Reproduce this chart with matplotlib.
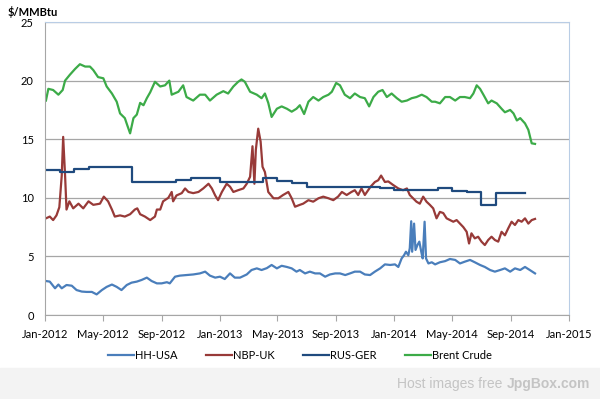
import pandas as pd
import matplotlib
matplotlib.use('Agg')
import matplotlib.pyplot as plt
import matplotlib.dates as mdates
from matplotlib.text import Annotation

plt.rcParams['font.family'] = ['Lato', 'DejaVu Sans']

# Henry Hub (USA)
hh_dates = ['2012-01-03', '2012-01-11', '2012-01-22', '2012-01-29', '2012-02-05', '2012-02-15', '2012-02-26',
            '2012-03-07', '2012-03-18', '2012-03-28', '2012-04-08', '2012-04-18', '2012-04-29', '2012-05-09',
            '2012-05-20', '2012-05-30', '2012-06-09', '2012-06-20', '2012-06-30', '2012-07-11', '2012-07-21',
            '2012-08-01', '2012-08-11', '2012-08-22', '2012-09-01', '2012-09-12', '2012-09-18', '2012-09-29',
            '2012-10-09', '2012-10-23', '2012-11-06', '2012-11-20', '2012-12-01', '2012-12-11', '2012-12-22',
            '2013-01-01', '2013-01-11', '2013-01-22', '2013-02-01', '2013-02-12', '2013-02-26', '2013-03-08',
            '2013-03-19', '2013-03-29', '2013-04-09', '2013-04-19', '2013-04-30', '2013-05-10', '2013-05-21',
            '2013-05-31', '2013-06-10', '2013-06-17', '2013-06-28', '2013-07-08', '2013-07-19', '2013-07-29',
            '2013-08-09', '2013-08-19', '2013-08-30', '2013-09-09', '2013-09-20', '2013-09-30', '2013-10-10',
            '2013-10-21', '2013-10-31', '2013-11-11', '2013-11-21', '2013-12-02', '2013-12-12', '2013-12-23',
            '2014-01-02', '2014-01-09', '2014-01-16', '2014-01-21', '2014-01-25', '2014-01-30', '2014-02-02',
            '2014-02-05', '2014-02-07', '2014-02-11', '2014-02-14', '2014-02-18', '2014-02-22', '2014-02-26',
            '2014-03-01', '2014-03-05', '2014-03-08', '2014-03-13', '2014-03-20', '2014-03-27', '2014-04-06',
            '2014-04-17', '2014-04-27', '2014-05-08', '2014-05-18', '2014-05-28', '2014-06-08', '2014-06-18',
            '2014-06-29', '2014-07-09', '2014-07-20', '2014-07-30', '2014-08-10', '2014-08-20', '2014-08-31',
            '2014-09-10', '2014-09-21', '2014-10-01', '2014-10-11', '2014-10-22']
hh_values = [2.9, 2.85, 2.28, 2.6, 2.28, 2.56, 2.5,
             2.13, 2.0, 1.97, 1.97, 1.76, 2.13, 2.4,
             2.6, 2.4, 2.13, 2.56, 2.76, 2.85, 2.99,
             3.19, 2.9, 2.7, 2.7, 2.8, 2.7, 3.27,
             3.36, 3.41, 3.46, 3.55, 3.7, 3.36, 3.19,
             3.27, 3.07, 3.55, 3.19, 3.19, 3.46, 3.84,
             3.98, 3.84, 4.0, 4.27, 3.98, 4.2, 4.1,
             3.98, 3.7, 3.84, 3.55, 3.7, 3.55, 3.55,
             3.27, 3.46, 3.55, 3.55, 3.41, 3.55, 3.7,
             3.7, 3.46, 3.41, 3.7, 3.98, 4.32, 4.27,
             4.32, 4.1, 4.83, 5.1, 5.4, 5.1, 5.7,
             8.0, 5.4, 7.8, 5.55, 5.97, 6.26, 5.4,
             4.83, 7.96, 4.83, 4.4, 4.5, 4.32, 4.5,
             4.6, 4.78, 4.7, 4.4, 4.55, 4.7, 4.5,
             4.27, 4.1, 3.84, 3.7, 3.84, 3.98, 3.7,
             3.98, 3.84, 4.1, 3.84, 3.55]

# NBP (UK)
nbp_dates = ['2012-01-03', '2012-01-11', '2012-01-18', '2012-01-25', '2012-01-31', '2012-02-05', '2012-02-08',
             '2012-02-12', '2012-02-15', '2012-02-21', '2012-02-29', '2012-03-11', '2012-03-21', '2012-04-01',
             '2012-04-11', '2012-04-25', '2012-05-03', '2012-05-12', '2012-05-20', '2012-05-26', '2012-06-06',
             '2012-06-16', '2012-06-27', '2012-07-07', '2012-07-12', '2012-07-18', '2012-07-28', '2012-08-08',
             '2012-08-18', '2012-08-22', '2012-08-29', '2012-09-04', '2012-09-15', '2012-09-22', '2012-09-25',
             '2012-10-02', '2012-10-13', '2012-10-20', '2012-10-27', '2012-11-06', '2012-11-17', '2012-11-27',
             '2012-12-08', '2012-12-15', '2012-12-22', '2012-12-28', '2013-01-05', '2013-01-15', '2013-01-22',
             '2013-01-29', '2013-02-08', '2013-02-19', '2013-02-26', '2013-03-05', '2013-03-10', '2013-03-14',
             '2013-03-17', '2013-03-22', '2013-03-27', '2013-03-31', '2013-04-05', '2013-04-12', '2013-04-23',
             '2013-05-03', '2013-05-13', '2013-05-24', '2013-05-31', '2013-06-07', '2013-06-17', '2013-06-24',
             '2013-07-05', '2013-07-15', '2013-07-26', '2013-08-05', '2013-08-16', '2013-08-26', '2013-09-05',
             '2013-09-13', '2013-09-23', '2013-10-03', '2013-10-10', '2013-10-17', '2013-10-24', '2013-10-31',
             '2013-11-07', '2013-11-12', '2013-11-21', '2013-11-28', '2013-12-04', '2013-12-12', '2013-12-19',
             '2013-12-29', '2014-01-09', '2014-01-19', '2014-01-27', '2014-02-02', '2014-02-09', '2014-02-16',
             '2014-02-23', '2014-03-02', '2014-03-09', '2014-03-16', '2014-03-23', '2014-03-30', '2014-04-06',
             '2014-04-13', '2014-04-20', '2014-04-27', '2014-05-04', '2014-05-11', '2014-05-18', '2014-05-25',
             '2014-06-01', '2014-06-06', '2014-06-11', '2014-06-18', '2014-06-25', '2014-07-02', '2014-07-09',
             '2014-07-16', '2014-07-23', '2014-07-30', '2014-08-06', '2014-08-13', '2014-08-20', '2014-08-27',
             '2014-09-03', '2014-09-10', '2014-09-17', '2014-09-24', '2014-10-01', '2014-10-08', '2014-10-15',
             '2014-10-22']
nbp_values = [8.25, 8.4, 8.1, 8.5, 9.2, 11.9, 15.2,
              11.9, 9.0, 9.7, 9.1, 9.5, 9.1, 9.7,
              9.4, 9.5, 10.1, 9.7, 9.0, 8.4, 8.5,
              8.4, 8.6, 9.0, 9.1, 8.6, 8.4, 8.1,
              8.4, 9.0, 9.0, 9.7, 10.0, 10.5, 9.7,
              10.2, 10.4, 10.8, 10.5, 10.4, 10.5, 10.8,
              11.2, 10.8, 10.2, 9.8, 10.5, 11.2, 10.95,
              10.5, 10.65, 10.8, 11.2, 11.8, 14.4, 11.2,
              14.1, 15.9, 14.8, 12.65, 12.2, 10.5, 9.96,
              9.96, 10.24, 10.5, 9.96, 9.24, 9.4, 9.5,
              9.8, 9.67, 9.96, 10.1, 9.96, 9.8, 10.1,
              10.5, 10.24, 10.5, 10.65, 10.24, 10.8, 10.24,
              10.65, 10.95, 11.35, 11.5, 11.9, 11.35, 11.4,
              11.1, 10.8, 10.65, 10.8, 10.24, 9.96, 9.67,
              9.5, 10.1, 9.67, 9.4, 9.1, 8.25, 8.8,
              8.7, 8.25, 8.1, 7.96, 8.1, 7.8, 7.5,
              7.1, 6.1, 6.97, 6.54, 6.68, 6.26, 5.97,
              6.4, 6.68, 6.4, 6.26, 7.1, 6.8, 7.4,
              7.96, 7.68, 8.1, 7.96, 8.25, 7.8, 8.1,
              8.2]

# Russian border price into Germany (monthly, last entry closes the final month)
rus_dates = pd.date_range('2012-01-01', '2014-10-01', freq='MS')
rus_values = [12.37, 12.23, 12.5, 12.6, 12.6, 12.6, 11.37, 11.37, 11.37, 11.5, 11.7, 11.7,
              11.37, 11.37, 11.37, 11.66, 11.4, 11.3, 10.95, 10.95, 10.95, 10.9, 10.9, 10.8,
              10.67, 10.67, 10.67, 10.8, 10.6, 10.52, 9.39, 10.44, 10.44, 10.44]

# Brent crude in $/MMBtu
brent_dates = ['2012-01-03', '2012-01-08', '2012-01-18', '2012-01-29', '2012-02-07', '2012-02-12', '2012-02-22',
               '2012-03-04', '2012-03-14', '2012-03-25', '2012-04-04', '2012-04-11', '2012-04-21', '2012-05-02',
               '2012-05-09', '2012-05-20', '2012-05-30', '2012-06-06', '2012-06-16', '2012-06-21', '2012-06-27',
               '2012-07-04', '2012-07-11', '2012-07-18', '2012-07-25', '2012-08-01', '2012-08-08', '2012-08-18',
               '2012-08-29', '2012-09-08', '2012-09-17', '2012-09-22', '2012-10-06', '2012-10-16', '2012-10-23',
               '2012-11-06', '2012-11-20', '2012-12-01', '2012-12-11', '2012-12-25', '2013-01-08', '2013-01-18',
               '2013-01-29', '2013-02-08', '2013-02-15', '2013-02-22', '2013-03-05', '2013-03-19', '2013-03-29',
               '2013-04-05', '2013-04-12', '2013-04-19', '2013-04-30', '2013-05-10', '2013-05-21', '2013-05-31',
               '2013-06-10', '2013-06-17', '2013-06-26', '2013-07-05', '2013-07-15', '2013-07-26', '2013-08-05',
               '2013-08-16', '2013-08-23', '2013-09-01', '2013-09-09', '2013-09-19', '2013-09-30', '2013-10-10',
               '2013-10-21', '2013-10-31', '2013-11-09', '2013-11-18', '2013-11-28', '2013-12-07', '2013-12-16',
               '2013-12-26', '2014-01-06', '2014-01-16', '2014-01-27', '2014-02-06', '2014-02-16', '2014-02-27',
               '2014-03-09', '2014-03-20', '2014-03-27', '2014-04-06', '2014-04-17', '2014-04-27', '2014-05-08',
               '2014-05-18', '2014-05-28', '2014-06-08', '2014-06-15', '2014-06-22', '2014-06-29', '2014-07-06',
               '2014-07-16', '2014-07-23', '2014-08-03', '2014-08-13', '2014-08-20', '2014-08-31', '2014-09-07',
               '2014-09-14', '2014-09-21', '2014-10-01', '2014-10-08', '2014-10-15', '2014-10-22']
brent_values = [18.3, 19.3, 19.2, 18.8, 19.2, 20.0, 20.5,
                21.0, 21.4, 21.2, 21.2, 20.9, 20.3, 20.2,
                19.5, 18.9, 18.2, 17.2, 16.8, 16.2, 15.5,
                16.8, 17.1, 18.1, 17.9, 18.5, 19.0, 19.9,
                19.5, 19.6, 20.0, 18.8, 19.05, 19.6, 18.6,
                18.3, 18.8, 18.8, 18.3, 18.8, 19.1, 18.9,
                19.5, 19.9, 20.1, 19.9, 19.05, 18.8, 18.5,
                18.9, 18.1, 16.9, 17.6, 17.8, 17.6, 17.35,
                17.6, 17.9, 17.15, 18.2, 18.6, 18.3, 18.6,
                18.8, 19.05, 19.8, 19.6, 18.8, 18.5, 18.9,
                18.6, 18.5, 17.8, 18.6, 19.05, 19.2, 18.6,
                18.9, 18.5, 18.2, 18.3, 18.5, 18.6, 18.8,
                18.6, 18.2, 18.2, 18.06, 18.6, 18.6, 18.3,
                18.6, 18.6, 18.5, 18.9, 19.6, 19.3, 18.8,
                18.06, 18.3, 18.06, 17.6, 17.3, 17.5, 17.2,
                16.6, 16.8, 16.35, 15.8, 14.65, 14.6]

fig = plt.figure(figsize=(6, 3.99), dpi=100)
ax = fig.add_axes([0.075, 0.2105, 0.8733, 0.7343])

ax.plot(pd.to_datetime(hh_dates), hh_values, color='#4a7ebb', lw=1.6, label='HH-USA')
ax.plot(pd.to_datetime(nbp_dates), nbp_values, color='#983a38', lw=1.6, label='NBP-UK')
ax.plot(rus_dates, rus_values, color='#1f4a7e', lw=1.6, drawstyle='steps-post', label='RUS-GER')
ax.plot(pd.to_datetime(brent_dates), brent_values, color='#3cab48', lw=1.6, label='Brent Crude')

ax.set_ylim(0, 25)
ax.set_yticks([0, 5, 10, 15, 20, 25])
ax.set_xlim(pd.Timestamp('2012-01-01'), pd.Timestamp('2015-01-01'))
ax.xaxis.set_major_locator(mdates.MonthLocator(bymonth=[1, 5, 9]))
ax.xaxis.set_major_formatter(mdates.DateFormatter('%b-%Y'))

ax.grid(axis='y', color='#a6a6a6', lw=0.9)
ax.set_axisbelow(True)
for side in ['left', 'bottom']:
    ax.spines[side].set_color('#a6a6a6')
for side in ['top', 'right']:
    ax.spines[side].set_color('#b9cde5')
ax.tick_params(axis='x', length=4, color='#a6a6a6', labelsize=8, pad=6)
ax.tick_params(axis='y', length=0, labelsize=8, pad=8)

fig.text(0.013, 0.985, '$/MMBtu', fontsize=8, fontweight='bold', va='top', ha='left')

fig.legend(loc='center', bbox_to_anchor=(0.5, 0.11), ncol=4, frameon=False, fontsize=8,
           handlelength=2.3, handletextpad=0.1, columnspacing=2.6)

# watermark strip along the bottom
fig.patches.append(plt.Rectangle((0, 0), 1, 31 / 399, transform=fig.transFigure,
                                 color='#f3f3f3', zorder=0))
jpg = fig.text(0.983, 0.038, 'JpgBox.com', fontsize=10, color='#c4c4c4', ha='right', va='center',
               fontweight='bold', family=['Liberation Sans'])
fig.add_artist(Annotation('Host images free ', xy=(0, 0.5), xycoords=jpg, ha='right', va='center',
                          fontsize=10, color='#c4c4c4', family=['Liberation Sans']))

plt.savefig('out.png', dpi=100)
